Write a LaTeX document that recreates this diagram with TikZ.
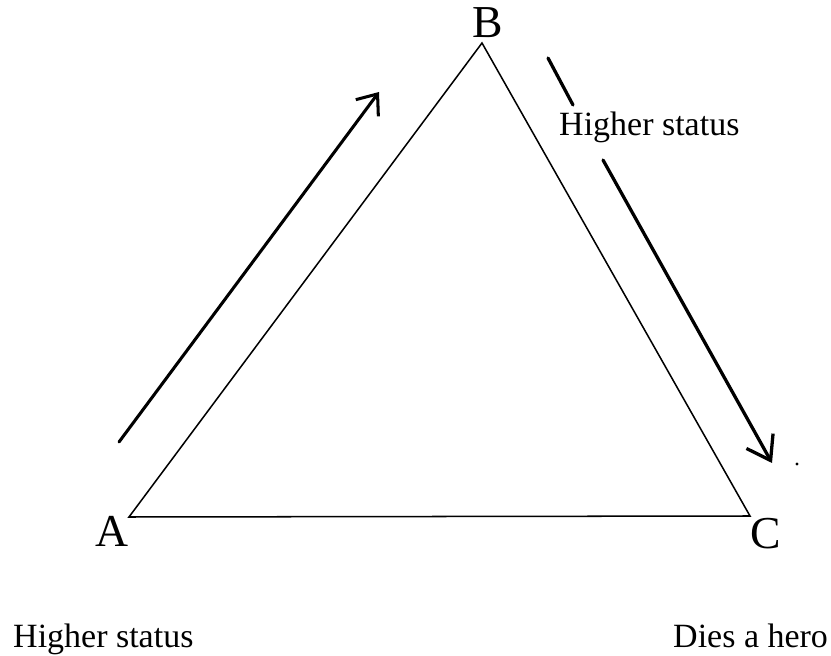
\documentclass[tikz,border=0pt]{standalone}
\usepackage{fontspec}
\setmainfont{Liberation Serif}
\usetikzlibrary{arrows.meta, positioning}

\begin{document}
\begin{tikzpicture}[x=0.03cm, y=-0.03cm,
  vertex/.style={inner sep=0pt, anchor=base, font=\fontsize{39}{39}\selectfont},
  caption/.style={inner sep=0pt, anchor=base west, font=\fontsize{29}{29}\selectfont},
  side/.style={line width=1.3pt, line join=miter},
  arrow/.style={line width=2.6pt, line cap=round, -{Straight Barb[length=15pt, width=24pt]}}
]
  \useasboundingbox (0,0) rectangle (831,656);

  % triangle
  \coordinate (A) at (129,517);
  \coordinate (B) at (482,43);
  \coordinate (C) at (750,516);
  \draw[side] (A) -- (B) -- (C) -- cycle;

  \node[vertex] (labA) at (112,547) {A};
  \node[vertex] (labB) at (488,38) {B};
  \node[vertex] (labC) at (766,548) {C};

  % status arrows
  \coordinate (up1) at (119,442);
  \coordinate (up2) at (379,92);
  \draw[arrow] (up1) -- (up2);

  \coordinate (dn1) at (548,58);
  \coordinate (dn2) at (573,105);
  \coordinate (dn3) at (603,160);
  \coordinate (dn4) at (772,463);
  \draw[line width=2.8pt, line cap=round] (dn1) -- (dn2);
  \draw[arrow, line width=2.8pt, -{Straight Barb[length=19pt, width=26pt]}] (dn3) -- (dn4);
  \fill (797,464) circle (1.6);

  \node[caption] (hsB) at (559,136) {Higher status};
  \node[caption] (hsA) at (13,647) {Higher status};
  \node[caption] (hero) at (673,647) {Dies a hero};
\end{tikzpicture}
\end{document}
